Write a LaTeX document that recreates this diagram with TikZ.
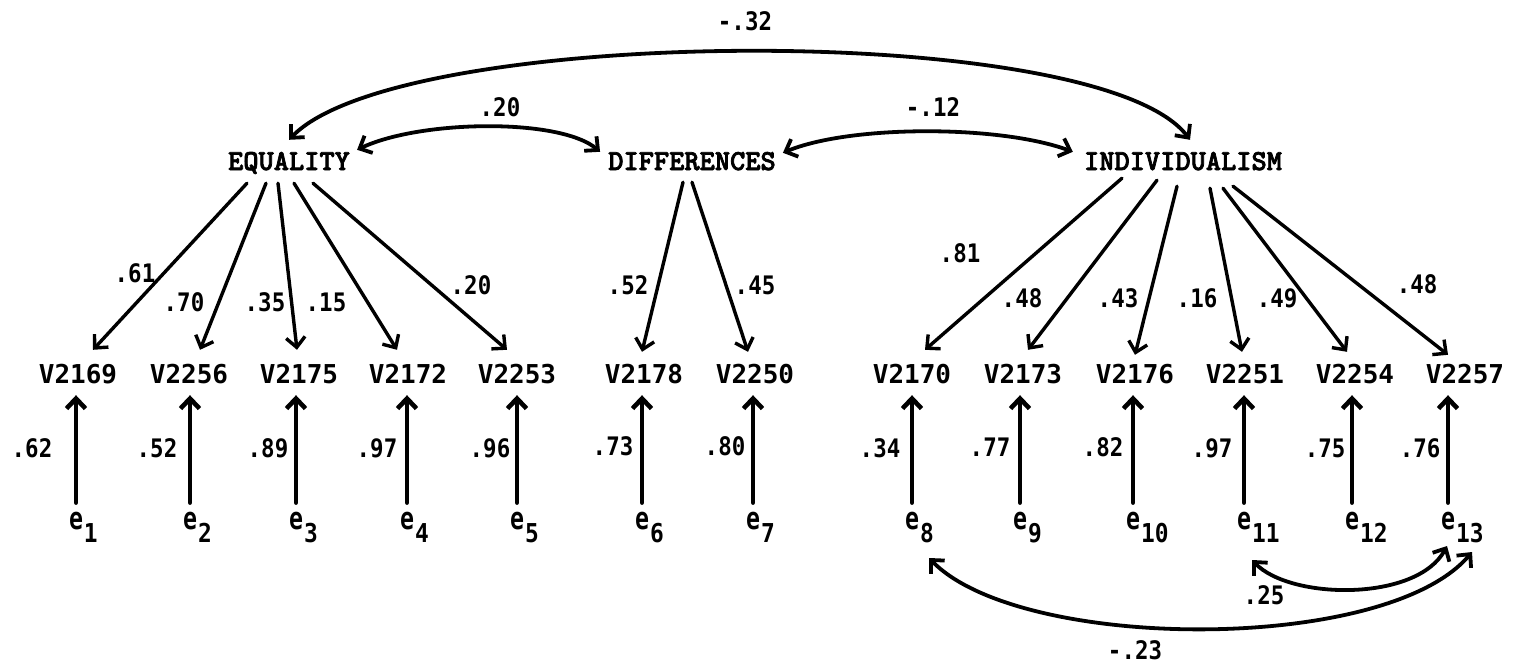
\documentclass[tikz,border=0pt]{standalone}
\usepackage{fontspec}
\usetikzlibrary{arrows.meta,calc}
\newfontfamily\latfont{lmmonolt10-bold.otf}[FakeBold=2.5]
\newfontfamily\monofont{DejaVu Sans Mono}
\newfontfamily\numfont{DejaVu Sans Mono}[FakeStretch=0.88]
\newfontfamily\efont{DejaVu Sans Mono}[FakeStretch=0.75]
% residual name: an "e" with a lowered full-size index that does not widen the node
\newcommand\errsub[1]{e\rlap{\kern1pt\raisebox{-13pt}{\numfont\bfseries\fontsize{26}{28}\selectfont #1}}}
\tikzset{
  latent/.style={font={\latfont\fontsize{29}{30}\selectfont}, inner sep=0pt, text height=17pt, text depth=0pt},
  observed/.style={font={\monofont\bfseries\fontsize{26}{30}\selectfont}, inner sep=0pt, text height=18pt, text depth=0pt},
  resid/.style={font={\efont\bfseries\fontsize{31}{32}\selectfont}, inner sep=0pt, text height=16pt, text depth=0pt, anchor=south},
  coef/.style={font={\numfont\bfseries\fontsize{25.5}{28}\selectfont}, inner sep=0pt, text height=18pt, text depth=0pt},
  load/.style={line width=3.4pt, ->},
  errarrow/.style={line width=4.6pt, ->},
  cov/.style={line width=3.8pt, <->},
}
\begin{document}
\begin{tikzpicture}[x=1pt, y=-1pt, line cap=round, line join=round,
  >={Straight Barb[length=10pt,width=19pt]}]
\fill[white] (0,0) rectangle (1518,669);
\useasboundingbox (0,0) rectangle (1518,669);

% latent factors
\node[latent] (eq)  at (289,161.5)  {EQUALITY};
\node[latent] (dif) at (692,161.5)  {DIFFERENCES};
\node[latent] (ind) at (1183,161.5) {INDIVIDUALISM};

% observed items
\foreach \i/\x/\lab in {1/78/V2169, 2/189/V2256, 3/299/V2175, 4/408/V2172, 5/517/V2253,
    6/644/V2178, 7/755/V2250, 8/912/V2170, 9/1023/V2173, 10/1135/V2176,
    11/1245/V2251, 12/1355/V2254, 13/1465/V2257}
  \node[observed] (v\i) at (\x,374) {\lab};

% residuals
\foreach \i/\x in {1/76, 2/190, 3/296, 4/407, 5/517, 6/642, 7/753, 8/912, 9/1020,
    10/1133, 11/1244, 12/1352, 13/1448}
  \node[resid] (e\i) at (\x,530) {\errsub{\i}};

% residual paths
\foreach \i in {1,...,13}
  \draw[errarrow] ([yshift=11pt]e\i.north) -- ($(e\i.north |- v\i.south)+(0,12)$);

% factor loadings
\foreach \i/\src/\sx/\sy/\tx/\ty in {
    1/eq/-42/-13/15/15, 2/eq/-23/-13/11/15, 3/eq/-11/-13/-2/15,
    4/eq/5/-13/-11/15, 5/eq/24/-13/-10/15,
    6/dif/-9/-12/-2/13, 7/dif/0/-12/-7/13,
    8/ind/-61/-8/13/15, 9/ind/-26/-10/5/15, 10/ind/-6/-16/0/10,
    11/ind/27/-18/-3/13, 12/ind/40/-18/-8/13, 13/ind/50/-16/-17/10}
  \draw[load] ([shift={(\sx pt,\sy pt)}]\src.south) -- ([shift={(\tx pt,\ty pt)}]v\i.north);

% factor covariances
\draw[cov] ([yshift=13pt]eq.north) .. controls +(110,-115) and +(-90,-120) .. ([shift={(7pt,13pt)}]ind.north);
\draw[cov] ([shift={(7pt,3pt)}]eq.north east) .. controls +(63,-30) and +(-40,-34) .. ([shift={(-8pt,1pt)}]dif.north west);
\draw[cov] ([shift={(7pt,0pt)}]dif.north east) .. controls +(67,-28) and +(-73,-27) .. ([shift={(-11pt,1pt)}]ind.north west);

% residual covariances
\draw[cov] ([shift={(17pt,-28pt)}]e8.south) .. controls +(91,94) and +(-86,102) .. ([shift={(24pt,-22pt)}]e13.south);
\draw[cov] ([shift={(8pt,-30pt)}]e11.south) .. controls +(38,40) and +(-30,56) .. ([shift={(-1pt,-16pt)}]e13.south);

% coefficients
\foreach \n/\x/\y/\lab in {
    c1/745/22/-.32, c2/500/107/.20, c3/933/107/-.12,
    c4/135/273/.61, c5/184/302/.70, c6/265/302/.35, c7/326/302/.15, c8/471/285/.20,
    c9/628/285/.52, c10/755/285/.45,
    c11/960/253/.81, c12/1022/298/.48, c13/1118/298/.43, c14/1197/298/.16,
    c15/1277/298/.49, c16/1417/284/.48,
    c17/32/448/.62, c18/157/448/.52, c19/268/448/.89, c20/377/448/.97, c21/490/448/.96,
    c22/613/446/.73, c23/725/446/.80,
    c24/880/448/.34, c25/990/447/.77, c26/1103/447/.82, c27/1212/448/.97,
    c28/1325/448/.75, c29/1420/448/.76,
    c30/1264/595/.25, c31/1135/650/-.23}
  \node[coef] (\n) at (\x,\y) {\lab};
\end{tikzpicture}
\end{document}
